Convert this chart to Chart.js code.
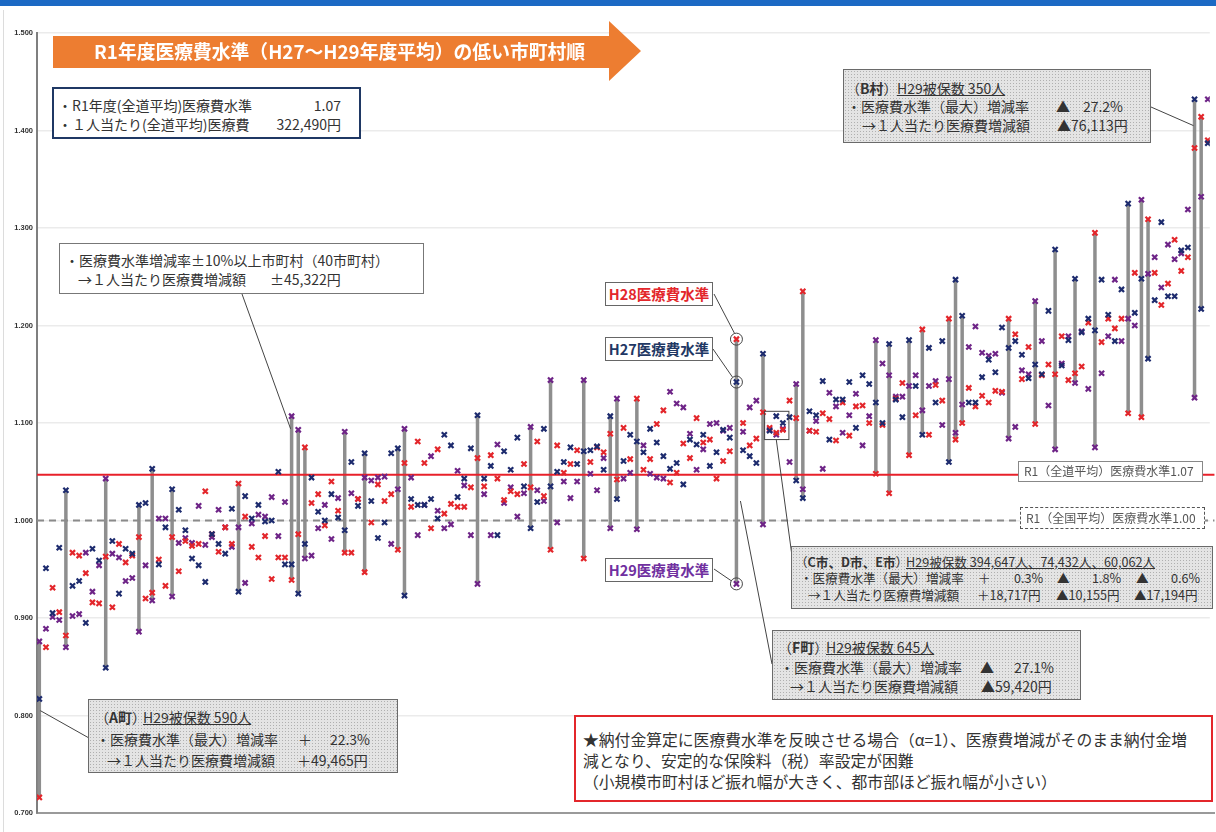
<!DOCTYPE html>
<html><head><meta charset="utf-8">
<script src="https://cdn.jsdelivr.net/npm/chart.js@4/dist/chart.umd.min.js"></script>
<style>
html,body{margin:0;padding:0;background:#fff;}
#wrap{position:relative;width:1216px;height:832px;overflow:hidden;font-family:"Noto Sans CJK JP","Noto Sans",sans-serif;color:#333;}
#c{position:absolute;left:0;top:0;}
.bx{position:absolute;box-sizing:border-box;}
.dots{background-color:#e4e4e4;background-image:radial-gradient(#b0b0b0 0.7px,transparent 0.9px);background-size:3px 3px;border:1px solid #6a6a6a;}
.t{position:absolute;white-space:nowrap;line-height:1;font-size:14px;}
.u{text-decoration:underline;}
.hl{position:absolute;box-sizing:border-box;width:108px;height:24px;border:1px solid #666;background:#fff;font-weight:bold;font-size:14.5px;line-height:22px;text-align:center;}
</style></head>
<body>
<div id="wrap">
<div style="position:absolute;left:0;top:0;width:1216px;height:6px;background:#1c69c4;"></div>
<div style="position:absolute;left:3px;top:10px;width:1px;height:822px;background:#dcdcdc;"></div>
<canvas id="c" width="1216" height="832"></canvas>

<svg style="position:absolute;left:0;top:0" width="1216" height="100"><polygon points="53,36 609,36 609,21 641,51 609,81 609,68 53,68" fill="#ed7d31"/></svg>
<div class="t" style="left:94px;top:42px;font-size:18.8px;font-weight:bold;color:#fff;">R1年度医療費水準（H27～H29年度平均）の低い市町村順</div>

<div class="bx" style="left:52px;top:87px;width:309px;height:52px;border:2px solid #1f3864;background:#fff;"></div>
<div class="t" style="left:58px;top:98px;">・R1年度(全道平均)医療費水準</div>
<div class="t" style="right:875px;top:98px;">1.07</div>
<div class="t" style="left:58px;top:117px;">・１人当たり(全道平均)医療費</div>
<div class="t" style="right:875px;top:117px;">322,490円</div>

<div class="bx" style="left:59px;top:243px;width:365px;height:51px;border:1px solid #777;background:#fff;"></div>
<div class="t" style="left:65px;top:253px;">・医療費水準増減率±10%以上市町村（40市町村）</div>
<div class="t" style="left:78px;top:272px;">→１人当たり医療費増減額</div>
<div class="t" style="left:270px;top:272px;">±45,322円</div>

<div class="hl" style="left:605px;top:282px;color:#e3262b;">H28医療費水準</div>
<div class="hl" style="left:605px;top:337px;color:#1f3864;">H27医療費水準</div>
<div class="hl" style="left:605px;top:558px;color:#7030a0;">H29医療費水準</div>

<div class="bx dots" style="left:843px;top:69px;width:308px;height:74px;"></div>
<div class="t" style="left:846px;top:81px;">（<b>B村</b>）</div>
<div class="t u" style="left:897px;top:81px;">H29被保数 350人</div>
<div class="t" style="left:847px;top:99px;">・医療費水準（最大）増減率</div>
<div class="t" style="left:1056px;top:99px;">▲</div>
<div class="t" style="right:93px;top:99px;">27.2%</div>
<div class="t" style="left:862px;top:118px;">→１人当たり医療費増減額</div>
<div class="t" style="left:1057px;top:118px;">▲76,113円</div>

<div class="bx" style="left:1018px;top:461px;width:185px;height:21px;border:1px solid #888;background:#fff;"></div>
<div class="t" style="left:1024px;top:465px;font-size:12px;color:#555;">R1（全道平均）医療費水準1.07</div>
<div class="bx" style="left:1020px;top:507px;width:185px;height:22px;border:1px dashed #555;background:#fff;"></div>
<div class="t" style="left:1026px;top:512px;font-size:12px;color:#555;">R1（全国平均）医療費水準1.00</div>

<div class="bx dots" style="left:791px;top:546px;width:422px;height:63px;"></div>
<div class="t" style="left:795px;top:556px;font-size:12.6px;">（<b>C市、D市、E市</b>）</div>
<div class="t u" style="left:906px;top:556px;font-size:12.6px;">H29被保数 394,647人、74,432人、60,062人</div>
<div class="t" style="left:800px;top:572px;font-size:12.6px;">・医療費水準（最大）増減率</div>
<div class="t" style="left:978px;top:572px;font-size:12.6px;">＋</div>
<div class="t" style="right:173px;top:572px;font-size:12.6px;">0.3%</div>
<div class="t" style="left:1057px;top:572px;font-size:12.6px;">▲</div>
<div class="t" style="right:95px;top:572px;font-size:12.6px;">1.8%</div>
<div class="t" style="left:1136px;top:572px;font-size:12.6px;">▲</div>
<div class="t" style="right:16px;top:572px;font-size:12.6px;">0.6%</div>
<div class="t" style="left:808px;top:589px;font-size:12.6px;">→１人当たり医療費増減額</div>
<div class="t" style="left:977px;top:589px;font-size:12.6px;">＋18,717円</div>
<div class="t" style="left:1056px;top:589px;font-size:12.6px;">▲10,155円</div>
<div class="t" style="left:1134px;top:589px;font-size:12.6px;">▲17,194円</div>

<div class="bx dots" style="left:772px;top:630px;width:309px;height:70px;"></div>
<div class="t" style="left:778px;top:640px;">（<b>F町</b>）</div>
<div class="t u" style="left:826px;top:640px;">H29被保数 645人</div>
<div class="t" style="left:780px;top:660px;">・医療費水準（最大）増減率</div>
<div class="t" style="left:980px;top:660px;">▲</div>
<div class="t" style="right:162px;top:660px;">27.1%</div>
<div class="t" style="left:790px;top:679px;">→１人当たり医療費増減額</div>
<div class="t" style="left:981px;top:679px;">▲59,420円</div>

<div class="bx dots" style="left:88px;top:699px;width:310px;height:74px;"></div>
<div class="t" style="left:95px;top:710px;">（<b>A町</b>）</div>
<div class="t u" style="left:143px;top:710px;">H29被保数 590人</div>
<div class="t" style="left:96px;top:732px;">・医療費水準（最大）増減率</div>
<div class="t" style="left:298px;top:732px;">＋</div>
<div class="t" style="right:846px;top:732px;">22.3%</div>
<div class="t" style="left:107px;top:753px;">→１人当たり医療費増減額</div>
<div class="t" style="left:297px;top:753px;">＋49,465円</div>

<div class="bx" style="left:574px;top:715px;width:639px;height:87px;border:2px solid #e3262b;background:#fff;"></div>
<div class="t" style="left:583px;top:732px;font-size:15.8px;">★納付金算定に医療費水準を反映させる場合（α=1）、医療費増減がそのまま納付金増</div>
<div class="t" style="left:583px;top:753px;font-size:15.8px;">減となり、安定的な保険料（税）率設定が困難</div>
<div class="t" style="left:583px;top:774px;font-size:15.8px;">（小規模市町村ほど振れ幅が大きく、都市部ほど振れ幅が小さい）</div>
</div>

<script>
// H27 / H28 / H29 医療費水準 per municipality, ordered by R1 level (H27-H29 average)
const h27 = [
0.817,0.951,0.905,0.972,1.031,0.933,0.938,0.895,0.971,0.959,
0.849,0.979,0.925,0.971,0.966,1.016,1.018,1.053,0.955,0.993,
1.032,1.011,0.990,0.961,0.954,0.937,0.986,0.976,0.966,1.012,
0.927,1.025,1.002,1.016,0.999,1.000,1.050,0.955,0.955,0.925,
0.976,1.044,1.009,1.000,1.027,1.003,0.990,1.060,1.015,1.069,
1.020,0.982,0.998,1.069,1.074,0.923,1.022,1.016,1.016,1.022,
1.002,1.088,1.077,1.024,1.043,1.074,1.108,1.043,1.056,0.985,
1.071,1.052,1.085,1.035,0.992,1.019,1.094,1.035,1.050,1.060,
1.075,1.058,1.071,1.072,1.076,1.052,1.107,1.022,1.061,1.088,
1.081,1.070,1.094,1.080,1.066,1.053,1.059,1.037,1.083,1.078,
1.088,1.056,1.070,1.093,1.085,1.142,1.072,1.066,1.059,1.171,
1.092,1.107,1.100,1.106,1.041,1.023,1.112,1.108,1.143,1.083,
1.124,1.124,1.142,1.095,1.149,1.140,1.121,1.100,1.181,1.124,
1.106,1.185,1.138,1.088,1.177,1.121,1.184,1.060,1.247,1.210,
1.121,1.121,1.147,1.165,1.152,1.198,1.177,1.184,1.170,1.146,
1.160,1.150,1.215,1.278,1.159,1.185,1.248,1.193,1.207,1.195,
1.247,1.211,1.184,1.237,1.325,1.213,1.248,1.166,1.226,1.306,
1.230,1.230,1.277,1.280,1.432,1.217,1.387];
const h28 = [
0.716,0.870,0.931,0.906,0.882,0.967,0.964,0.946,0.916,0.915,
0.963,0.911,0.976,0.957,0.964,0.983,0.920,0.926,0.960,0.933,
0.983,0.948,0.979,0.974,0.976,1.030,0.986,0.968,0.993,0.976,
1.038,1.004,0.973,0.962,0.984,0.940,0.962,0.962,0.939,0.986,
1.075,1.018,1.027,0.995,1.040,1.010,0.967,0.967,1.022,0.947,
0.998,1.037,1.020,1.027,0.970,1.059,1.014,1.081,1.059,0.992,
1.073,1.007,1.017,1.014,1.014,1.034,1.064,1.035,1.067,1.043,
1.021,1.030,1.027,1.058,1.034,1.081,1.025,0.970,1.077,1.049,
1.058,1.072,0.961,1.060,1.075,1.070,1.089,1.042,1.095,1.063,
1.125,1.052,1.063,1.099,1.113,1.039,1.049,1.079,1.064,1.105,
1.080,1.083,1.043,1.061,1.071,1.186,1.100,1.077,1.084,1.111,
1.095,1.090,1.093,1.123,1.105,1.235,1.092,1.091,1.110,1.104,
1.082,1.121,1.087,1.117,1.118,1.100,1.048,1.098,1.028,1.125,
1.141,1.067,1.108,1.196,1.088,1.139,1.123,1.207,1.083,1.100,
1.136,1.117,1.128,1.121,1.133,1.132,1.207,1.191,1.145,1.178,
1.099,1.149,1.160,1.150,1.189,1.144,1.151,1.158,1.203,1.295,
1.183,1.207,1.197,1.207,1.110,1.254,1.106,1.309,1.254,1.221,
1.243,1.288,1.256,1.270,1.382,1.414,1.390];
const h29 = [
0.876,0.889,0.901,0.898,0.870,0.902,0.904,0.967,0.927,0.954,
1.043,0.966,0.962,0.938,0.941,0.886,0.954,0.918,1.002,1.002,
0.922,0.977,0.982,0.977,1.015,0.975,0.983,1.011,0.993,0.973,
0.993,0.936,0.997,1.006,1.004,1.024,0.984,1.019,1.107,1.093,
0.961,0.964,0.992,1.016,0.981,1.023,1.091,1.028,1.022,1.044,
1.041,1.044,1.045,0.976,1.032,1.094,1.044,0.985,1.016,1.066,
1.010,0.992,0.996,1.051,1.036,0.985,0.935,1.027,0.985,1.078,
1.018,1.034,1.004,1.028,1.096,1.031,1.020,1.144,0.998,1.040,
1.023,1.040,1.144,1.048,1.031,1.064,0.992,1.125,1.043,1.049,
0.991,1.077,1.048,1.044,1.043,1.132,1.120,1.116,1.089,1.052,
1.073,1.099,1.100,1.092,1.095,0.935,1.091,1.116,1.123,0.996,
1.093,1.088,1.094,1.060,1.140,1.032,1.092,1.102,1.053,1.131,
1.117,1.090,1.108,1.130,1.077,1.107,1.185,1.161,1.149,1.127,
1.127,1.138,1.149,1.113,1.138,1.143,1.098,1.145,1.090,1.119,
1.178,1.199,1.172,1.169,1.171,1.131,1.084,1.096,1.154,1.150,
1.225,1.184,1.118,1.073,1.161,1.189,1.141,1.194,1.135,1.075,
1.151,1.189,1.247,1.184,1.207,1.200,1.329,1.253,1.270,1.239,
1.283,1.268,1.274,1.319,1.126,1.332,1.432];
// municipalities with change of ±10% or more (gray range bars)
const bigChange = [0,4,10,15,17,20,30,38,39,40,46,49,54,55,66,74,77,82,86,87,90,105,109,114,115,126,128,131,133,137,138,139,146,150,153,156,159,164,166,167,174,175];
const yMin = 0.7, yMax = 1.5, yStep = 0.1;
const prefAvgLine = 1.047;   // R1（全道平均）line as drawn
const natAvgLine = 1.00;     // R1（全国平均）
const idxA = 0, idxB = 174, idxF = 105, idxCDE = [110, 111, 112];

const xMin = -0.35, xMax = h27.length - 1 + 0.3;
const pts = arr => arr.map((v, i) => ({x: i, y: v}));

const rangePlugin = {
  id: 'ranges',
  beforeDatasetsDraw(chart) {
    const {ctx, scales: {x, y}} = chart;
    ctx.save();
    ctx.strokeStyle = '#8e8e8e'; ctx.lineWidth = 3.5;
    bigChange.forEach(i => {
      const v = [h27[i], h28[i], h29[i]];
      const px = x.getPixelForValue(i);
      ctx.beginPath();
      ctx.moveTo(px, y.getPixelForValue(Math.max(...v)));
      ctx.lineTo(px, y.getPixelForValue(Math.min(...v)));
      ctx.stroke();
    });
    ctx.restore();
  }
};

const notePlugin = {
  id: 'notes',
  afterDatasetsDraw(chart) {
    const {ctx, scales: {x, y}} = chart;
    ctx.save();
    const line = (x1, y1, x2, y2) => { ctx.beginPath(); ctx.moveTo(x1, y1); ctx.lineTo(x2, y2); ctx.stroke(); };
    ctx.strokeStyle = '#444'; ctx.lineWidth = 1;
    const fx = x.getPixelForValue(idxF);
    [h27[idxF], h28[idxF], h29[idxF]].forEach(v => {
      ctx.beginPath(); ctx.arc(fx, y.getPixelForValue(v), 6, 0, Math.PI * 2); ctx.stroke();
    });
    line(714, 294, fx - 2, y.getPixelForValue(h28[idxF]) - 6);
    line(713, 349, fx - 4, y.getPixelForValue(h27[idxF]) - 5);
    line(714, 569, fx - 5, y.getPixelForValue(h29[idxF]) - 3);
    line(242, 294, x.getPixelForValue(38) - 1, y.getPixelForValue(1.094));
    line(89, 738, x.getPixelForValue(idxA) + 1, y.getPixelForValue(0.805));
    line(1151, 107, x.getPixelForValue(idxB) - 1, y.getPixelForValue(1.405));
    const l = x.getPixelForValue(idxCDE[0]) - 5, r = x.getPixelForValue(idxCDE[2]) + 6;
    const t = y.getPixelForValue(1.112), b = y.getPixelForValue(1.083);
    ctx.strokeRect(l, t, r - l, b - t);
    line(x.getPixelForValue(idxCDE[1]), b, 792, 556);
    line(fx + 4, y.getPixelForValue(1.02), 772, 664);
    // extend x axis line to the slide edge
    ctx.strokeStyle = '#9a9a9a'; ctx.lineWidth = 2;
    line(chart.chartArea.right - 1, chart.chartArea.bottom, 1215, chart.chartArea.bottom);
    ctx.restore();
  }
};

const mk = (label, data, color) => ({
  type: 'scatter', label, data: pts(data), order: 1,
  pointStyle: 'crossRot', pointRadius: 3.6, pointBorderWidth: 2.2,
  borderColor: color, backgroundColor: color
});

new Chart(document.getElementById('c'), {
  data: {
    datasets: [
      {type: 'line', label: 'R1全道平均', data: [{x: xMin, y: prefAvgLine}, {x: xMax + 0.7, y: prefAvgLine}],
       borderColor: '#e8202a', borderWidth: 2, pointRadius: 0, order: 5, clip: false},
      {type: 'line', label: 'R1全国平均', data: [{x: xMin, y: natAvgLine}, {x: xMax + 0.7, y: natAvgLine}],
       borderColor: '#8a8a8a', borderWidth: 2, borderDash: [7, 5], pointRadius: 0, order: 5, clip: false},
      mk('H27医療費水準', h27, '#1d2b6e'),
      mk('H28医療費水準', h28, '#e3262b'),
      mk('H29医療費水準', h29, '#6e2487')
    ]
  },
  options: {
    responsive: false, animation: false,
    layout: {padding: {left: 0, top: 33, right: 1, bottom: 19}},
    plugins: {legend: {display: false}, tooltip: {enabled: false}},
    scales: {
      x: {type: 'linear', min: xMin, max: xMax,
          grid: {display: false, drawTicks: false}, ticks: {display: false},
          border: {display: true, color: '#9a9a9a', width: 2},
          afterFit: s => { s.height = 0; s.paddingLeft = 0; s.paddingRight = 0; }},
      y: {type: 'linear', min: yMin, max: yMax,
          ticks: {stepSize: yStep, padding: 4, color: '#333',
                  font: {family: 'Liberation Sans', size: 7.5, weight: 'bold'},
                  callback: v => Number(v).toFixed(3)},
          grid: {color: '#ebebeb', lineWidth: 1.5, drawTicks: false},
          border: {display: true, color: '#7f7f7f', width: 2},
          afterFit: s => { s.width = 37; }}
    }
  },
  plugins: [rangePlugin, notePlugin]
});
</script>
</body></html>
